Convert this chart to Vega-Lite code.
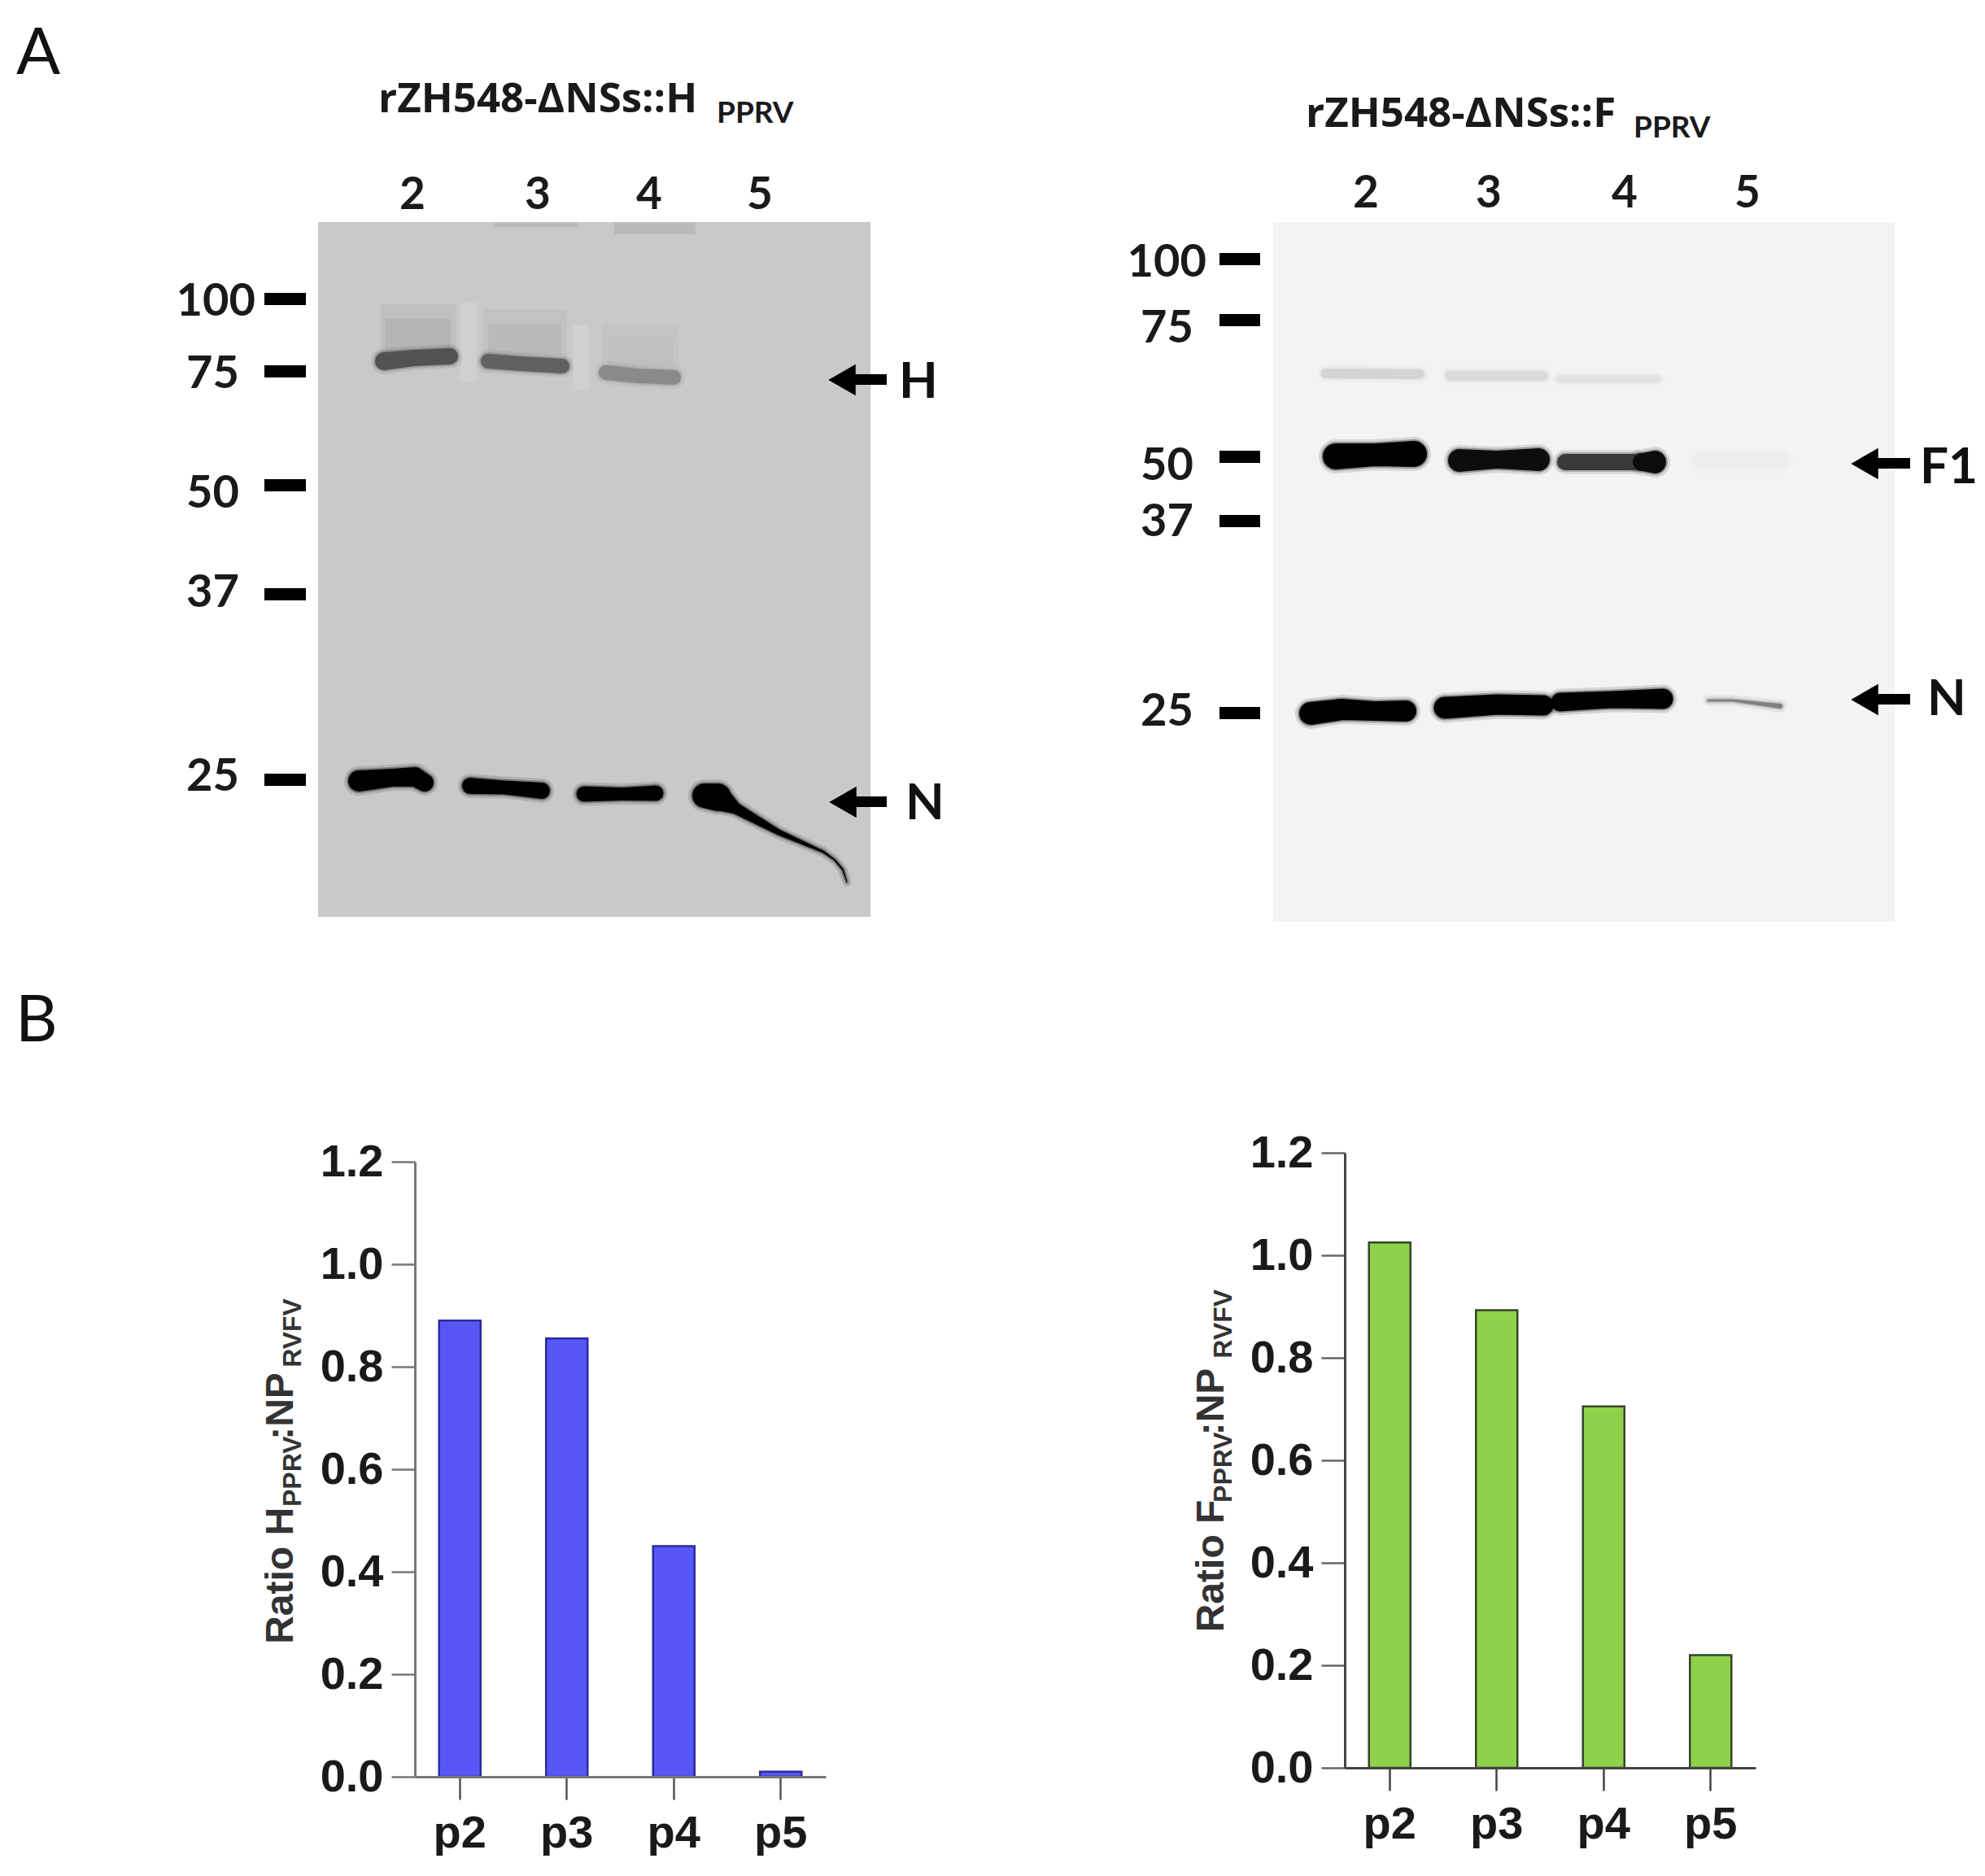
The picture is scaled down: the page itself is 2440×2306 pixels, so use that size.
{
  "$schema": "https://vega.github.io/schema/vega-lite/v6.json",
  "padding": 0,
  "background": "white",
  "config": {"view": {"stroke": null}, "font": "Liberation Sans"},
  "datasets": {
    "blocks": [
      {"item": "gel H", "x0": 391, "x1": 1070, "y0": 273, "y1": 1127, "signal": 0.21},
      {"item": "gel F", "x0": 1565, "x1": 2329, "y0": 273, "y1": 1133, "signal": 0.047},
      {"item": "streak H 2-3", "x0": 566, "x1": 586, "y0": 372, "y1": 470, "signal": 0.185},
      {"item": "streak H 3-4", "x0": 704, "x1": 724, "y0": 400, "y1": 480, "signal": 0.185},
      {"item": "well H 3", "x0": 608, "x1": 710, "y0": 273, "y1": 279, "signal": 0.27},
      {"item": "well H 4", "x0": 755, "x1": 855, "y0": 273, "y1": 288, "signal": 0.27},
      {"item": "smear H 2", "x0": 468, "x1": 560, "y0": 374, "y1": 436, "signal": 0.25},
      {"item": "smear H 2 core", "x0": 474, "x1": 554, "y0": 392, "y1": 432, "signal": 0.29},
      {"item": "smear H 3", "x0": 593, "x1": 697, "y0": 380, "y1": 440, "signal": 0.24},
      {"item": "smear H 3 core", "x0": 600, "x1": 690, "y0": 398, "y1": 436, "signal": 0.27},
      {"item": "smear H 4", "x0": 740, "x1": 834, "y0": 398, "y1": 452, "signal": 0.23},
      {"item": "smear H 4 core", "x0": 747, "x1": 827, "y0": 414, "y1": 450, "signal": 0.25},
      {"item": "marker 100", "x0": 325, "x1": 376, "y0": 360, "y1": 375, "signal": 1},
      {"item": "marker 75", "x0": 325, "x1": 376, "y0": 449, "y1": 464, "signal": 1},
      {"item": "marker 50", "x0": 325, "x1": 376, "y0": 589, "y1": 604, "signal": 1},
      {"item": "marker 37", "x0": 325, "x1": 376, "y0": 723, "y1": 738, "signal": 1},
      {"item": "marker 25", "x0": 325, "x1": 376, "y0": 951, "y1": 966, "signal": 1},
      {"item": "marker 100", "x0": 1499, "x1": 1549, "y0": 311, "y1": 326, "signal": 1},
      {"item": "marker 75", "x0": 1499, "x1": 1549, "y0": 386, "y1": 401, "signal": 1},
      {"item": "marker 50", "x0": 1499, "x1": 1549, "y0": 554, "y1": 569, "signal": 1},
      {"item": "marker 37", "x0": 1499, "x1": 1549, "y0": 633, "y1": 648, "signal": 1},
      {"item": "marker 25", "x0": 1499, "x1": 1549, "y0": 869, "y1": 884, "signal": 1},
      {"item": "arrow H", "x0": 1050, "x1": 1090, "y0": 460, "y1": 473, "signal": 1},
      {"item": "arrow N", "x0": 1050, "x1": 1090, "y0": 979, "y1": 992, "signal": 1},
      {"item": "arrow F1", "x0": 2306, "x1": 2348, "y0": 563, "y1": 576, "signal": 1},
      {"item": "arrow N", "x0": 2306, "x1": 2348, "y0": 853, "y1": 866, "signal": 1}
    ],
    "bands": [
      {"band": "H2", "pos": 472, "mig": 444, "thick": 22, "signal": 0.68},
      {"band": "H2", "pos": 510, "mig": 440, "thick": 20, "signal": 0.68},
      {"band": "H2", "pos": 553, "mig": 438, "thick": 20, "signal": 0.68},
      {"band": "H3", "pos": 600, "mig": 444, "thick": 18, "signal": 0.62},
      {"band": "H3", "pos": 640, "mig": 447, "thick": 18, "signal": 0.62},
      {"band": "H3", "pos": 691, "mig": 450, "thick": 18, "signal": 0.62},
      {"band": "H4", "pos": 745, "mig": 458, "thick": 18, "signal": 0.46},
      {"band": "H4", "pos": 785, "mig": 462, "thick": 18, "signal": 0.46},
      {"band": "H4", "pos": 828, "mig": 464, "thick": 18, "signal": 0.46},
      {"band": "NH2", "pos": 441, "mig": 960, "thick": 26, "signal": 1},
      {"band": "NH2", "pos": 482, "mig": 956, "thick": 22, "signal": 1},
      {"band": "NH2", "pos": 510, "mig": 955, "thick": 24, "signal": 1},
      {"band": "NH2", "pos": 522, "mig": 962, "thick": 22, "signal": 1},
      {"band": "NH3", "pos": 578, "mig": 966, "thick": 20, "signal": 1},
      {"band": "NH3", "pos": 620, "mig": 968, "thick": 17, "signal": 1},
      {"band": "NH3", "pos": 666, "mig": 972, "thick": 20, "signal": 1},
      {"band": "NH4", "pos": 718, "mig": 976, "thick": 19, "signal": 1},
      {"band": "NH4", "pos": 765, "mig": 976, "thick": 16, "signal": 1},
      {"band": "NH4", "pos": 806, "mig": 975, "thick": 19, "signal": 1},
      {"band": "NH5", "pos": 866, "mig": 978, "thick": 30, "signal": 1},
      {"band": "NH5", "pos": 882, "mig": 980, "thick": 34, "signal": 1},
      {"band": "NH5", "pos": 905, "mig": 994, "thick": 14, "signal": 1},
      {"band": "NH5", "pos": 957, "mig": 1023, "thick": 7, "signal": 1},
      {"band": "NH5", "pos": 1012, "mig": 1047, "thick": 3, "signal": 1},
      {"band": "NH5", "pos": 1026, "mig": 1057, "thick": 2, "signal": 1},
      {"band": "NH5", "pos": 1036, "mig": 1069, "thick": 2, "signal": 1},
      {"band": "NH5", "pos": 1041, "mig": 1084, "thick": 1, "signal": 1},
      {"band": "FU2", "pos": 1630, "mig": 459, "thick": 12, "signal": 0.17},
      {"band": "FU2", "pos": 1745, "mig": 460, "thick": 12, "signal": 0.17},
      {"band": "FU3", "pos": 1782, "mig": 462, "thick": 12, "signal": 0.14},
      {"band": "FU3", "pos": 1897, "mig": 462, "thick": 12, "signal": 0.14},
      {"band": "FU4", "pos": 1918, "mig": 466, "thick": 10, "signal": 0.11},
      {"band": "FU4", "pos": 2037, "mig": 466, "thick": 10, "signal": 0.11},
      {"band": "F12", "pos": 1642, "mig": 561, "thick": 32, "signal": 1},
      {"band": "F12", "pos": 1690, "mig": 559, "thick": 28, "signal": 1},
      {"band": "F12", "pos": 1738, "mig": 558, "thick": 32, "signal": 1},
      {"band": "F13", "pos": 1794, "mig": 566, "thick": 28, "signal": 0.95},
      {"band": "F13", "pos": 1840, "mig": 565, "thick": 22, "signal": 0.95},
      {"band": "F13", "pos": 1891, "mig": 565, "thick": 28, "signal": 0.95},
      {"band": "F14", "pos": 1924, "mig": 568, "thick": 20, "signal": 0.78},
      {"band": "F14", "pos": 2010, "mig": 568, "thick": 20, "signal": 0.78},
      {"band": "F14b", "pos": 2018, "mig": 568, "thick": 22, "signal": 0.95},
      {"band": "F14b", "pos": 2034, "mig": 568, "thick": 28, "signal": 0.95},
      {"band": "F15", "pos": 2090, "mig": 566, "thick": 20, "signal": 0.065},
      {"band": "F15", "pos": 2190, "mig": 566, "thick": 20, "signal": 0.065},
      {"band": "NF2", "pos": 1611, "mig": 877, "thick": 28, "signal": 1},
      {"band": "NF2", "pos": 1650, "mig": 872, "thick": 26, "signal": 1},
      {"band": "NF2", "pos": 1690, "mig": 874, "thick": 24, "signal": 1},
      {"band": "NF2", "pos": 1728, "mig": 874, "thick": 26, "signal": 1},
      {"band": "NF3", "pos": 1776, "mig": 870, "thick": 27, "signal": 1},
      {"band": "NF3", "pos": 1840, "mig": 866, "thick": 25, "signal": 1},
      {"band": "NF3", "pos": 1897, "mig": 867, "thick": 25, "signal": 1},
      {"band": "NF4", "pos": 1918, "mig": 863, "thick": 23, "signal": 1},
      {"band": "NF4", "pos": 1980, "mig": 860, "thick": 21, "signal": 1},
      {"band": "NF4", "pos": 2044, "mig": 859, "thick": 25, "signal": 1},
      {"band": "NF5", "pos": 2100, "mig": 861, "thick": 3, "signal": 0.5},
      {"band": "NF5", "pos": 2115, "mig": 859, "thick": 8, "signal": 0.6},
      {"band": "NF5", "pos": 2130, "mig": 861, "thick": 3, "signal": 0.5},
      {"band": "NF5", "pos": 2170, "mig": 864, "thick": 3, "signal": 0.45},
      {"band": "NF5", "pos": 2188, "mig": 868, "thick": 6, "signal": 0.5}
    ],
    "arrowheads": [
      {"arrow": "H", "pos": 1035, "mig": 467},
      {"arrow": "N", "pos": 1036, "mig": 986},
      {"arrow": "F1", "pos": 2292, "mig": 570},
      {"arrow": "N", "pos": 2292, "mig": 860}
    ],
    "ratioH": [
      {"passage": "p2", "ratio": 0.89},
      {"passage": "p3", "ratio": 0.855},
      {"passage": "p4", "ratio": 0.45},
      {"passage": "p5", "ratio": 0.01}
    ],
    "ratioF": [
      {"passage": "p2", "ratio": 1.025},
      {"passage": "p3", "ratio": 0.893},
      {"passage": "p4", "ratio": 0.705},
      {"passage": "p5", "ratio": 0.22}
    ]
  },
  "spacing": 0,
  "bounds": "flush",
  "vconcat": [
    {
      "width": 2440,
      "height": 1417,
      "resolve": {"scale": {"size": "independent"}},
      "layer": [
        {
          "data": {"name": "blocks"},
          "mark": "rect",
          "encoding": {
            "x": {"field": "x0", "type": "quantitative", "scale": {"domain": [0, 2440], "nice": false, "zero": false}, "axis": null},
            "x2": {"field": "x1"},
            "y": {"field": "y0", "type": "quantitative", "scale": {"domain": [1417, 0], "nice": false, "zero": false}, "axis": null},
            "y2": {"field": "y1"},
            "color": {"field": "signal", "type": "quantitative", "scale": {"domain": [0, 1], "range": ["#ffffff", "#000000"], "interpolate": "rgb"}, "legend": null}
          }
        },
        {
          "data": {"name": "bands"},
          "mark": {"type": "trail", "opacity": 0.12},
          "encoding": {
            "x": {"field": "pos", "type": "quantitative"},
            "y": {"field": "mig", "type": "quantitative"},
            "detail": {"field": "band"},
            "color": {"field": "signal", "type": "quantitative", "legend": null},
            "size": {"field": "thick", "type": "quantitative", "scale": {"domain": [0, 60], "range": [10, 70]}, "legend": null}
          }
        },
        {
          "data": {"name": "bands"},
          "mark": {"type": "trail", "opacity": 0.3},
          "encoding": {
            "x": {"field": "pos", "type": "quantitative"},
            "y": {"field": "mig", "type": "quantitative"},
            "detail": {"field": "band"},
            "color": {"field": "signal", "type": "quantitative", "legend": null},
            "size": {"field": "thick", "type": "quantitative", "scale": {"domain": [0, 60], "range": [4, 64]}, "legend": null}
          }
        },
        {
          "data": {"name": "bands"},
          "mark": {"type": "trail"},
          "encoding": {
            "x": {"field": "pos", "type": "quantitative"},
            "y": {"field": "mig", "type": "quantitative"},
            "detail": {"field": "band"},
            "color": {"field": "signal", "type": "quantitative", "legend": null},
            "size": {"field": "thick", "type": "quantitative", "scale": {"domain": [0, 60], "range": [0, 60]}, "legend": null}
          }
        },
        {
          "data": {"name": "arrowheads"},
          "mark": {"type": "point", "shape": "triangle-left", "filled": true, "size": 1500, "color": "#000000", "opacity": 1},
          "encoding": {
            "x": {"field": "pos", "type": "quantitative"},
            "y": {"field": "mig", "type": "quantitative"}
          }
        },
        {
          "data": {"values": [
            {"label": "A", "pos": 20, "mig": 91},
            {"label": "B", "pos": 19, "mig": 1280}
          ]},
          "mark": {"type": "text", "font": "Lato", "fontSize": 80, "align": "left", "baseline": "alphabetic", "color": "#111111"},
          "encoding": {
            "x": {"field": "pos", "type": "quantitative"},
            "y": {"field": "mig", "type": "quantitative"},
            "text": {"field": "label"}
          }
        },
        {
          "data": {"values": [
            {"label": "rZH548-ΔNSs::H", "pos": 465, "mig": 138},
            {"label": "rZH548-ΔNSs::F", "pos": 1605, "mig": 156}
          ]},
          "mark": {"type": "text", "font": "Open Sans", "fontSize": 51, "fontWeight": "bold", "align": "left", "baseline": "alphabetic", "color": "#1a1a1a"},
          "encoding": {
            "x": {"field": "pos", "type": "quantitative"},
            "y": {"field": "mig", "type": "quantitative"},
            "text": {"field": "label"}
          }
        },
        {
          "data": {"values": [
            {"label": "PPRV", "pos": 881, "mig": 151},
            {"label": "PPRV", "pos": 2008, "mig": 169}
          ]},
          "mark": {"type": "text", "font": "Lato", "fontSize": 37, "fontWeight": "bold", "align": "left", "baseline": "alphabetic", "color": "#1a1a1a"},
          "encoding": {
            "x": {"field": "pos", "type": "quantitative"},
            "y": {"field": "mig", "type": "quantitative"},
            "text": {"field": "label"}
          }
        },
        {
          "data": {"values": [
            {"label": "2", "pos": 507, "mig": 236},
            {"label": "3", "pos": 661, "mig": 236},
            {"label": "4", "pos": 798, "mig": 236},
            {"label": "5", "pos": 934, "mig": 236},
            {"label": "2", "pos": 1679, "mig": 234},
            {"label": "3", "pos": 1830, "mig": 234},
            {"label": "4", "pos": 1997, "mig": 234},
            {"label": "5", "pos": 2148, "mig": 234}
          ]},
          "mark": {"type": "text", "font": "Lato", "fontSize": 55, "fontWeight": "bold", "dy": 4, "align": "center", "baseline": "middle", "color": "#1a1a1a"},
          "encoding": {
            "x": {"field": "pos", "type": "quantitative"},
            "y": {"field": "mig", "type": "quantitative"},
            "text": {"field": "label"}
          }
        },
        {
          "data": {"values": [
            {"label": "100", "pos": 314, "mig": 367},
            {"label": "75", "pos": 294, "mig": 456},
            {"label": "50", "pos": 294, "mig": 603},
            {"label": "37", "pos": 294, "mig": 725},
            {"label": "25", "pos": 294, "mig": 951},
            {"label": "100", "pos": 1483, "mig": 319},
            {"label": "75", "pos": 1467, "mig": 400},
            {"label": "50", "pos": 1467, "mig": 569},
            {"label": "37", "pos": 1467, "mig": 638},
            {"label": "25", "pos": 1467, "mig": 871}
          ]},
          "mark": {"type": "text", "font": "Lato", "fontSize": 56, "fontWeight": "bold", "dy": 4, "align": "right", "baseline": "middle", "color": "#1a1a1a"},
          "encoding": {
            "x": {"field": "pos", "type": "quantitative"},
            "y": {"field": "mig", "type": "quantitative"},
            "text": {"field": "label"}
          }
        },
        {
          "data": {"values": [
            {"label": "H", "pos": 1105, "mig": 466},
            {"label": "N", "pos": 1113, "mig": 984},
            {"label": "F1", "pos": 2360, "mig": 571},
            {"label": "N", "pos": 2369, "mig": 856}
          ]},
          "mark": {"type": "text", "font": "Lato", "fontSize": 62, "fontWeight": "bold", "dy": 4, "align": "left", "baseline": "middle", "color": "#111111"},
          "encoding": {
            "x": {"field": "pos", "type": "quantitative"},
            "y": {"field": "mig", "type": "quantitative"},
            "text": {"field": "label"}
          }
        }
      ]
    },
    {
      "spacing": 0,
      "bounds": "flush",
      "hconcat": [
        {"width": 510, "height": 1, "data": {"values": [{"blank": 1}]}, "mark": {"type": "rect", "opacity": 0}},
        {
          "spacing": 0,
          "bounds": "flush",
          "vconcat": [
            {"width": 505, "height": 11, "data": {"values": [{"blank": 1}]}, "mark": {"type": "rect", "opacity": 0}},
            {
              "width": 505,
              "height": 756,
              "layer": [
                {
                  "data": {"name": "ratioH"},
                  "mark": {"type": "bar", "fill": "#5757f5", "stroke": "#2b2b9c", "strokeWidth": 2.5},
                  "encoding": {
                    "x": {
                      "field": "passage",
                      "type": "nominal",
                      "scale": {"domain": ["p2", "p3", "p4", "p5"], "paddingInner": 0.612, "paddingOuter": 0.226},
                      "axis": {"title": null, "labelAngle": 0, "labelFont": "Liberation Sans", "labelFontSize": 56, "labelFontWeight": "bold", "labelColor": "#1a1a1a", "labelPadding": 14, "tickSize": 28, "tickWidth": 2.5, "tickColor": "#555555", "domainWidth": 3, "domainColor": "#777777", "zindex": 1}
                    },
                    "y": {
                      "field": "ratio",
                      "type": "quantitative",
                      "scale": {"domain": [0, 1.2], "nice": false},
                      "axis": {"title": null, "grid": false, "values": [0, 0.2, 0.4, 0.6, 0.8, 1, 1.2], "format": ".1f", "labelFont": "Liberation Sans", "labelFontSize": 56, "labelFontWeight": "bold", "labelColor": "#1a1a1a", "labelPadding": 10, "tickSize": 29, "tickWidth": 2.5, "tickColor": "#777777", "domainWidth": 3, "domainColor": "#777777", "zindex": 1}
                    }
                  }
                },
                {
                  "data": {"values": [{"part": "Ratio H", "start": 0.259}, {"part": ":NP", "start": 0.6575}]},
                  "mark": {"type": "text", "font": "Liberation Sans", "fontSize": 48, "fontWeight": "bold", "angle": 270, "align": "left", "baseline": "alphabetic", "dy": -205, "color": "#333333"},
                  "encoding": {
                    "x": {"datum": "p2", "type": "nominal"},
                    "y": {"field": "start", "type": "quantitative"},
                    "text": {"field": "part"}
                  }
                },
                {
                  "data": {"values": [{"part": "PPRV", "start": 0.527}, {"part": "RVFV", "start": 0.7987}]},
                  "mark": {"type": "text", "font": "Liberation Sans", "fontSize": 32, "fontWeight": "bold", "angle": 270, "align": "left", "baseline": "alphabetic", "dy": -195, "color": "#333333"},
                  "encoding": {
                    "x": {"datum": "p2", "type": "nominal"},
                    "y": {"field": "start", "type": "quantitative"},
                    "text": {"field": "part"}
                  }
                }
              ]
            }
          ]
        },
        {"width": 1143, "height": 1, "data": {"values": [{"blank": 1}]}, "mark": {"type": "rect", "opacity": 0}},
        {
          "width": 505,
          "height": 756,
          "layer": [
            {
              "data": {"name": "ratioF"},
              "mark": {"type": "bar", "fill": "#8fd14a", "stroke": "#36452a", "strokeWidth": 2.5},
              "encoding": {
                "x": {
                  "field": "passage",
                  "type": "nominal",
                  "scale": {"domain": ["p2", "p3", "p4", "p5"], "paddingInner": 0.612, "paddingOuter": 0.226},
                  "axis": {"title": null, "labelAngle": 0, "labelFont": "Liberation Sans", "labelFontSize": 56, "labelFontWeight": "bold", "labelColor": "#1a1a1a", "labelPadding": 14, "tickSize": 28, "tickWidth": 2.5, "tickColor": "#444444", "domainWidth": 3, "domainColor": "#444444", "zindex": 1}
                },
                "y": {
                  "field": "ratio",
                  "type": "quantitative",
                  "scale": {"domain": [0, 1.2], "nice": false},
                  "axis": {"title": null, "grid": false, "values": [0, 0.2, 0.4, 0.6, 0.8, 1, 1.2], "format": ".1f", "labelFont": "Liberation Sans", "labelFontSize": 56, "labelFontWeight": "bold", "labelColor": "#1a1a1a", "labelPadding": 10, "tickSize": 29, "tickWidth": 2.5, "tickColor": "#666666", "domainWidth": 3, "domainColor": "#444444", "zindex": 1}
                }
              }
            },
            {
              "data": {"values": [{"part": "Ratio F", "start": 0.2646}, {"part": ":NP", "start": 0.6487}]},
              "mark": {"type": "text", "font": "Liberation Sans", "fontSize": 48, "fontWeight": "bold", "angle": 270, "align": "left", "baseline": "alphabetic", "dy": -204, "color": "#333333"},
              "encoding": {
                "x": {"datum": "p2", "type": "nominal"},
                "y": {"field": "start", "type": "quantitative"},
                "text": {"field": "part"}
              }
            },
            {
              "data": {"values": [{"part": "PPRV", "start": 0.5176}, {"part": "RVFV", "start": 0.799}]},
              "mark": {"type": "text", "font": "Liberation Sans", "fontSize": 32, "fontWeight": "bold", "angle": 270, "align": "left", "baseline": "alphabetic", "dy": -194, "color": "#333333"},
              "encoding": {
                "x": {"datum": "p2", "type": "nominal"},
                "y": {"field": "start", "type": "quantitative"},
                "text": {"field": "part"}
              }
            }
          ]
        }
      ]
    }
  ]
}
